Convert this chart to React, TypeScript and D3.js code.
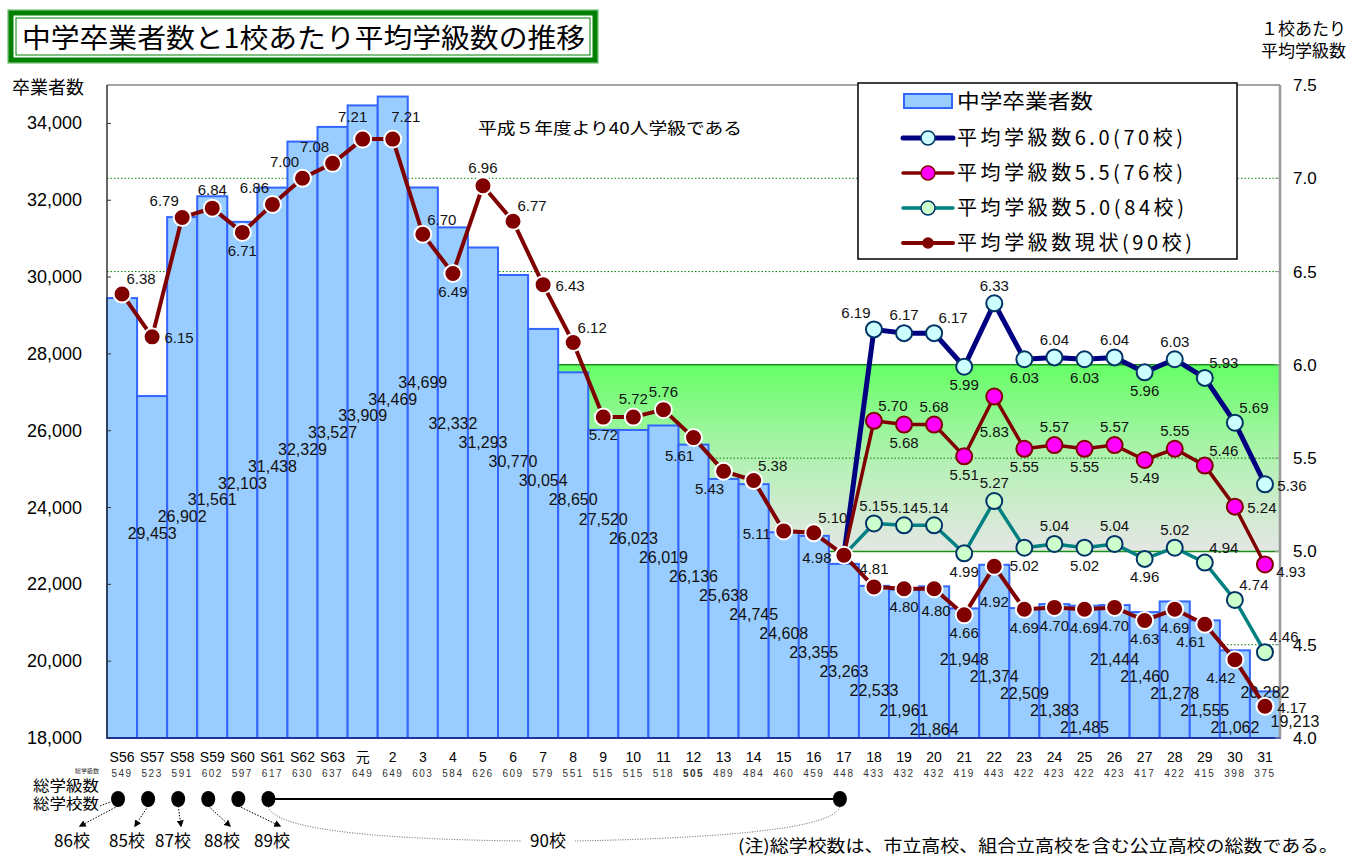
import React from "react";
import * as d3 from "d3";

// fiscal years (昭和 S56 .. 平成31)
const categories = [
	"S56", "S57", "S58", "S59", "S60", "S61", "S62", "S63", "元", "2",
	"3", "4", "5", "6", "7", "8", "9", "10", "11", "12",
	"13", "14", "15", "16", "17", "18", "19", "20", "21", "22",
	"23", "24", "25", "26", "27", "28", "29", "30", "31",
];

// 中学卒業者数
const graduates = [
	29453, 26902, 31561, 32103, 31438, 32329, 33527, 33909, 34469, 34699,
	32332, 31293, 30770, 30054, 28650, 27520, 26023, 26019, 26136, 25638,
	24745, 24608, 23355, 23263, 22533, 21961, 21864, 21948, 21374, 22509,
	21383, 21485, 21444, 21460, 21278, 21555, 21062, 20282, 19213,
];

// 総学級数
const classTotals = [
	549, 523, 591, 602, 597, 617, 630, 637, 649, 649,
	603, 584, 626, 609, 579, 551, 515, 515, 518, 505,
	489, 484, 460, 459, 448, 433, 432, 432, 419, 443,
	422, 423, 422, 423, 417, 422, 415, 398, 375,
];

// 平均学級数現状(90校)
const avgCurrent = [
	6.38, 6.15, 6.79, 6.84, 6.71, 6.86, 7.0, 7.08, 7.21, 7.21,
	6.7, 6.49, 6.96, 6.77, 6.43, 6.12, 5.72, 5.72, 5.76, 5.61,
	5.43, 5.38, 5.11, 5.1, 4.98, 4.81, 4.8, 4.8, 4.66, 4.92,
	4.69, 4.7, 4.69, 4.7, 4.63, 4.69, 4.61, 4.42, 4.17,
];

// scenario series start from H17 (index 24)
const pad = Array(24).fill(null);
const avg60 = [...pad, 4.98, 6.19, 6.17, 6.17, 5.99, 6.33, 6.03, 6.04, 6.03, 6.04, 5.96, 6.03, 5.93, 5.69, 5.36];
const avg55 = [...pad, 4.98, 5.7, 5.68, 5.68, 5.51, 5.83, 5.55, 5.57, 5.55, 5.57, 5.49, 5.55, 5.46, 5.24, 4.93];
const avg50 = [...pad, 4.98, 5.15, 5.14, 5.14, 4.99, 5.27, 5.02, 5.04, 5.02, 5.04, 4.96, 5.02, 4.94, 4.74, 4.46];

// where each point label sits relative to its marker
const placeCurrent = [
	"tr", "r", "tl", "t", "b", "tl", "tl", "tl", "tL", "tR",
	"tr", "b", "t", "tr", "r", "tr", "b", "t", "t", "bl",
	"bl", "tr", "l", "tr", "l", "t", "b", "bb2", "b", "bb",
	"b", "b", "b", "b", "b", "b", "bl", "bl", "r",
];
const place60 = [...pad, "", "tl", "t", "tr", "b", "t", "b", "t", "b", "t", "b", "t", "tr", "tr", "r"];
const place55 = [...pad, "", "tr", "b", "t", "b", "bb", "b", "t", "b", "t", "b", "t", "tr", "r", "rb"];
const place50 = [...pad, "", "t", "t", "t", "b", "t", "b", "t", "b", "t", "b", "t", "tr", "tr", "tr"];

const leftTicks = [18000, 20000, 22000, 24000, 26000, 28000, 30000, 32000, 34000];
const rightTicks = [4.0, 4.5, 5.0, 5.5, 6.0, 6.5, 7.0, 7.5];
const gridTicks = [4.5, 5.5, 6.5, 7.0];

const schoolsLabels = ["86校", "85校", "87校", "88校", "89校"];

const W = 1353;
const H = 856;
const M = {left: 107, right: 1280, top: 85, bottom: 738};

const NUM = "'Liberation Sans', Arial, 'Noto Sans CJK JP', sans-serif";
const JP = "'Noto Sans CJK JP', 'Noto Sans', sans-serif";

const offsets: Record<string, [number, number]> = {
	t: [0, -18],
	tL: [-10, -22],
	tR: [13, -22],
	b: [0, 18],
	bb: [0, 35],
	bb2: [2, 22],
	tr: [19, -15],
	tl: [-18, -17],
	r: [27, 1],
	rb: [26, 7],
	l: [-27, 3],
	bl: [-14, 18],
};

// Excel scattered the bar value labels in diagonal staircases
const barLabelY = (i: number) => {
	if (i <= 9) return 533 - 16.8 * i;
	if (i <= 26) return 423 + 19.1 * (i - 10);
	if (i <= 36) return 659 + 17 * ((i - 27) % 5);
	return 692 + 29 * (i - 37);
};

export default function App() {
	const x = d3.scaleBand<string>().domain(categories).range([M.left, M.right]).padding(0);
	const yL = d3.scaleLinear().domain([18000, 35000]).range([M.bottom, M.top]);
	const yR = d3.scaleLinear().domain([4, 7.5]).range([M.bottom, M.top]);
	const bw = x.bandwidth();
	const cx = (i: number) => (x(categories[i]) as number) + bw / 2;

	const line = d3
		.line<number | null>()
		.defined((d) => d != null)
		.x((_, i) => cx(i))
		.y((d) => yR(d as number));

	const series = [
		{name: "平均学級数6.0(70校)", len: 226, data: avg60, place: place60, stroke: "#000080", width: 5, fill: "#ccffff", mstroke: "#003366", r: 8, ms: 2},
		{name: "平均学級数5.5(76校)", len: 226, data: avg55, place: place55, stroke: "#800000", width: 3.5, fill: "#ff00ff", mstroke: "#800000", r: 8, ms: 2},
		{name: "平均学級数5.0(84校)", len: 227, data: avg50, place: place50, stroke: "#008080", width: 3.5, fill: "#ccffcc", mstroke: "#003366", r: 8, ms: 2},
		{name: "平均学級数現状(90校)", len: 235, data: avgCurrent, place: placeCurrent, stroke: "#800000", width: 4, fill: "#800000", mstroke: "#ffffff", r: 8.5, ms: 2},
	];

	const bandX0 = x("8") as number;
	const dotX = (i: number) => cx(i) - 4;
	const dotY = 799;

	return (
		<svg width={W} height={H} style={{position: "absolute", left: 0, top: 0, background: "#fff"}}>
			<defs>
				<linearGradient id="band" x1="0" y1="0" x2="0" y2="1">
					<stop offset="0%" stopColor="#66ff66" />
					<stop offset="55%" stopColor="#b8f0b8" />
					<stop offset="100%" stopColor="#e4e6e4" />
				</linearGradient>
				<marker id="arrow" viewBox="0 0 10 10" refX="8" refY="5" markerWidth="7" markerHeight="7" orient="auto-start-reverse">
					<path d="M0,0 L10,5 L0,10 z" fill="#000" />
				</marker>
			</defs>

			{/* title */}
			<rect x={8} y={10} width={590} height={53} fill="none" stroke="#4caf50" strokeWidth={1} />
			<rect x={11} y={13} width={584} height={47} fill="#fff" stroke="#008000" strokeWidth={5} />
			<rect x={16} y={18} width={574} height={37} fill="none" stroke="#008000" strokeWidth={1} />
			<text x={22} y={48} fontFamily={JP} fontSize={27} textLength={563} lengthAdjust="spacingAndGlyphs" fill="#000">
				中学卒業者数と1校あたり平均学級数の推移
			</text>

			{/* axis titles */}
			<text x={12} y={94} fontFamily={JP} fontSize={18} fill="#000">卒業者数</text>
			<text x={1346} y={35} textAnchor="end" fontFamily={JP} fontSize={17} fill="#000">１校あたり</text>
			<text x={1346} y={57} textAnchor="end" fontFamily={JP} fontSize={17} fill="#000">平均学級数</text>

			{/* 5.0 - 6.0 band */}
			<rect x={bandX0} y={yR(6)} width={M.right - bandX0} height={yR(5) - yR(6)} fill="url(#band)" />
			<line x1={bandX0} x2={M.right} y1={yR(6)} y2={yR(6)} stroke="#1a8f1a" strokeWidth={1.5} />
			<line x1={bandX0} x2={M.right} y1={yR(5)} y2={yR(5)} stroke="#1a8f1a" strokeWidth={1.5} />
			<line x1={bandX0} x2={bandX0} y1={yR(6)} y2={yR(5)} stroke="#1a8f1a" strokeWidth={1.5} />

			{/* dotted grid */}
			{gridTicks.map((t) => (
				<line key={t} x1={M.left} x2={M.right} y1={yR(t)} y2={yR(t)} stroke="#008000" strokeWidth={1} strokeDasharray="1.5,2" />
			))}

			{/* bars */}
			{graduates.map((v, i) => (
				<rect
					key={i}
					x={x(categories[i]) as number}
					y={yL(v)}
					width={bw}
					height={M.bottom - yL(v)}
					fill="#99ccff"
					stroke="#3366ff"
					strokeWidth={2}
				/>
			))}

			{/* plot frame */}
			<line x1={M.left} x2={M.right} y1={M.top} y2={M.top} stroke="#888" strokeWidth={1.5} />
			<line x1={M.right} x2={M.right} y1={M.top} y2={M.bottom} stroke="#999" strokeWidth={2.5} />
			<line x1={M.left} x2={M.left} y1={M.top} y2={M.bottom} stroke="#333" strokeWidth={1.5} />
			<line x1={M.left} x2={M.right} y1={M.bottom} y2={M.bottom} stroke="#1a237e" strokeWidth={1.5} />

			{/* left axis */}
			{leftTicks.map((t) => (
				<g key={t}>
					<line x1={M.left} x2={M.left + 4} y1={yL(t)} y2={yL(t)} stroke="#333" />
					<text x={82} y={yL(t) + 6} textAnchor="end" fontFamily={NUM} fontSize={18} fill="#000">
						{d3.format(",")(t)}
					</text>
				</g>
			))}

			{/* right axis */}
			{rightTicks.map((t) => (
				<g key={t}>
					<line x1={M.right - 5} x2={M.right} y1={yR(t)} y2={yR(t)} stroke="#999" />
					<text x={1293} y={yR(t) + 6} fontFamily={NUM} fontSize={17} fill="#000">
						{t.toFixed(1)}
					</text>
				</g>
			))}

			{/* note inside plot */}
			<text x={478} y={134} fontFamily={JP} fontSize={16} textLength={264} lengthAdjust="spacingAndGlyphs" fill="#000">
				平成５年度より40人学級である
			</text>

			{/* bar value labels */}
			{graduates.map((v, i) => (
				<text key={i} x={cx(i) + bw} y={barLabelY(i) + 6} textAnchor="middle" fontFamily={NUM} fontSize={16} fill="#111">
					{d3.format(",")(v)}
				</text>
			))}

			{/* lines */}
			{series.map((s) => (
				<path key={s.name} d={line(s.data) || ""} fill="none" stroke={s.stroke} strokeWidth={s.width} strokeLinejoin="round" />
			))}
			{series.map((s) => (
				<g key={s.name + "m"}>
					{s.data.map((d, i) =>
						d == null || (s.data !== avgCurrent && i === 24) ? null : (
							<circle key={i} cx={cx(i)} cy={yR(d)} r={s.r} fill={s.fill} stroke={s.mstroke} strokeWidth={s.ms} />
						)
					)}
				</g>
			))}
			{series.map((s) => (
				<g key={s.name + "l"}>
					{s.data.map((d, i) => {
						const p = s.place[i];
						if (d == null || !p) return null;
						const [dx, dy] = offsets[p];
						return (
							<text key={i} x={cx(i) + dx} y={yR(d) + dy} dy="0.35em" textAnchor="middle" fontFamily={NUM} fontSize={15} fill="#111">
								{d.toFixed(2)}
							</text>
						);
					})}
				</g>
			))}

			{/* legend */}
			<rect x={858} y={83} width={379} height={176} fill="#fff" stroke="#000" strokeWidth={1.5} />
			<rect x={904} y={94} width={48} height={14} fill="#99ccff" stroke="#3366ff" strokeWidth={2} />
			<text x={957} y={109} fontFamily={JP} fontSize={20} textLength={136} lengthAdjust="spacingAndGlyphs" fill="#000">中学卒業者数</text>
			{series.map((s, k) => {
				const ly = 138 + k * 35;
				return (
					<g key={s.name + "lg"}>
						<line x1={903} x2={953} y1={ly} y2={ly} stroke={s.stroke} strokeWidth={s.width} strokeLinecap="round" />
						<circle cx={928} cy={ly} r={k === 3 ? 5 : 7} fill={s.fill} stroke={k === 3 ? s.fill : s.mstroke} strokeWidth={1.5} />
						<text x={957} y={ly + 7} fontFamily={JP} fontSize={20} textLength={s.len} lengthAdjust="spacing" fill="#000">{s.name}</text>
					</g>
				);
			})}

			{/* x axis labels */}
			{categories.map((c, i) => (
				<text key={c} x={cx(i)} y={762} textAnchor="middle" fontFamily={c === "元" ? JP : NUM} fontSize={14} fill="#000">
					{c}
				</text>
			))}
			<text x={99} y={773} textAnchor="end" fontFamily={JP} fontSize={6} fill="#333">総学級数</text>
			{classTotals.map((v, i) => (
				<text key={i} x={cx(i)} y={777} textAnchor="middle" fontFamily={NUM} fontSize={10} letterSpacing={1.5} fontWeight={v === 505 ? "bold" : "normal"} fill="#333">
					{v}
				</text>
			))}

			{/* school count annotation */}
			<text x={33} y={791} fontFamily={JP} fontSize={15} textLength={66} lengthAdjust="spacingAndGlyphs" fill="#000">総学級数</text>
			<text x={33} y={809} fontFamily={JP} fontSize={15} textLength={66} lengthAdjust="spacingAndGlyphs" fill="#000">総学校数</text>
			<line x1={100} y1={806} x2={110} y2={802} stroke="#000" strokeDasharray="1.5,1.5" />
			<line x1={dotX(5)} x2={dotX(24)} y1={dotY} y2={dotY} stroke="#000" strokeWidth={2} />
			{[0, 1, 2, 3, 4, 5, 24].map((i) => (
				<ellipse key={i} cx={dotX(i)} cy={dotY} rx={7} ry={8} fill="#000" />
			))}
			{schoolsLabels.map((s, k) => {
				const tx = [72, 127, 173, 222, 272][k];
				return (
					<g key={s}>
						<line x1={dotX(k)} y1={dotY + 7} x2={tx + 8} y2={826} stroke="#000" strokeWidth={1} strokeDasharray="1.5,1.5" markerEnd="url(#arrow)" />
						<text x={tx} y={847} textAnchor="middle" fontFamily={JP} fontSize={17} fill="#000">{s}</text>
					</g>
				);
			})}
			<path d={`M${dotX(5)},${dotY + 8} Q${dotX(5) + 10},838 522,841`} fill="none" stroke="#555" strokeWidth={1} strokeDasharray="1,1.5" />
			<path d={`M${dotX(24)},${dotY + 8} Q${dotX(24) - 10},836 575,841`} fill="none" stroke="#555" strokeWidth={1} strokeDasharray="1,1.5" />
			<text x={548} y={847} textAnchor="middle" fontFamily={JP} fontSize={17} fill="#000">90校</text>
			<text x={738} y={852} fontFamily={JP} fontSize={17} textLength={600} lengthAdjust="spacingAndGlyphs" fill="#000">
				(注)総学校数は、市立高校、組合立高校を含む公立高校の総数である。
			</text>
		</svg>
	);
}
